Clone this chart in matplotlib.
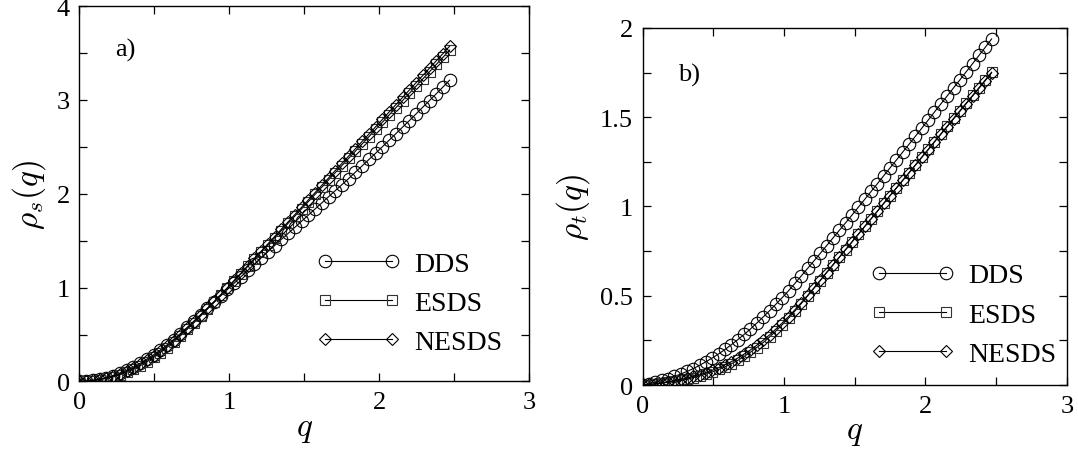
import matplotlib
matplotlib.use("Agg")
import matplotlib.pyplot as plt
from matplotlib.ticker import MultipleLocator, NullFormatter

plt.rcParams['font.family'] = ['Liberation Serif', 'DejaVu Serif']
plt.rcParams['mathtext.fontset'] = 'cm'

# wave numbers (grid of the data points)
q = [0.000, 0.045, 0.090, 0.135, 0.180, 0.224, 0.269, 0.314, 0.359, 0.404,
     0.449, 0.494, 0.539, 0.583, 0.628, 0.673, 0.718, 0.763, 0.808, 0.853,
     0.898, 0.942, 0.987, 1.032, 1.077, 1.122, 1.167, 1.212, 1.257, 1.301,
     1.346, 1.391, 1.436, 1.481, 1.526, 1.571, 1.616, 1.661, 1.705, 1.750,
     1.795, 1.840, 1.885, 1.930, 1.975, 2.020, 2.064, 2.109, 2.154, 2.199,
     2.244, 2.289, 2.334, 2.379, 2.424, 2.468]

# panel a) rho_s(q)
rs_dds = [0, 0.004, 0.012, 0.026, 0.042, 0.063, 0.090, 0.120, 0.154, 0.193,
          0.238, 0.284, 0.335, 0.389, 0.447, 0.511, 0.576, 0.644, 0.712, 0.780,
          0.847, 0.913, 0.980, 1.048, 1.116, 1.183, 1.250, 1.318, 1.384, 1.448,
          1.514, 1.577, 1.642, 1.707, 1.772, 1.838, 1.903, 1.968, 2.032, 2.097,
          2.162, 2.230, 2.297, 2.365, 2.432, 2.501, 2.569, 2.639, 2.709, 2.778,
          2.850, 2.922, 2.993, 3.065, 3.137, 3.210]
rs_esds = [0, 0.003, 0.009, 0.019, 0.032, 0.049, 0.071, 0.098, 0.130, 0.167,
           0.209, 0.256, 0.307, 0.362, 0.422, 0.487, 0.555, 0.626, 0.698, 0.771,
           0.844, 0.917, 0.993, 1.071, 1.148, 1.225, 1.302, 1.379, 1.456, 1.531,
           1.608, 1.685, 1.762, 1.839, 1.916, 1.993, 2.070, 2.147, 2.223, 2.300,
           2.377, 2.454, 2.531, 2.608, 2.685, 2.762, 2.838, 2.915, 2.992, 3.069,
           3.146, 3.223, 3.300, 3.377, 3.454, 3.530]
rs_nesds = [0, 0.004, 0.011, 0.023, 0.038, 0.057, 0.081, 0.110, 0.143, 0.181,
            0.224, 0.271, 0.322, 0.377, 0.436, 0.500, 0.567, 0.637, 0.708, 0.780,
            0.853, 0.926, 1.001, 1.078, 1.155, 1.233, 1.311, 1.389, 1.467, 1.544,
            1.622, 1.700, 1.778, 1.856, 1.934, 2.012, 2.090, 2.168, 2.246, 2.324,
            2.402, 2.480, 2.558, 2.636, 2.714, 2.792, 2.870, 2.948, 3.026, 3.104,
            3.182, 3.260, 3.338, 3.416, 3.494, 3.572]

# panel b) rho_t(q)
rt_dds = [0, 0.007, 0.016, 0.026, 0.036, 0.048, 0.061, 0.076, 0.092, 0.111,
          0.131, 0.152, 0.175, 0.199, 0.226, 0.254, 0.283, 0.314, 0.347, 0.381,
          0.416, 0.452, 0.489, 0.528, 0.569, 0.611, 0.653, 0.695, 0.738, 0.780,
          0.823, 0.866, 0.909, 0.952, 0.996, 1.040, 1.084, 1.128, 1.172, 1.216,
          1.260, 1.305, 1.349, 1.394, 1.439, 1.484, 1.529, 1.574, 1.619, 1.664,
          1.709, 1.755, 1.800, 1.846, 1.892, 1.938]
rt_esds = [0, 0.002, 0.006, 0.010, 0.015, 0.020, 0.026, 0.033, 0.041, 0.051,
           0.062, 0.074, 0.087, 0.102, 0.119, 0.138, 0.160, 0.184, 0.210, 0.238,
           0.269, 0.302, 0.337, 0.374, 0.414, 0.456, 0.499, 0.542, 0.585, 0.629,
           0.672, 0.715, 0.758, 0.801, 0.845, 0.888, 0.931, 0.974, 1.017, 1.061,
           1.104, 1.147, 1.190, 1.233, 1.277, 1.320, 1.363, 1.406, 1.449, 1.493,
           1.536, 1.579, 1.622, 1.665, 1.709, 1.752]
rt_nesds = [0, 0.003, 0.007, 0.012, 0.018, 0.024, 0.031, 0.039, 0.048, 0.058,
            0.070, 0.083, 0.097, 0.113, 0.131, 0.151, 0.173, 0.197, 0.223, 0.251,
            0.281, 0.313, 0.347, 0.383, 0.421, 0.461, 0.502, 0.544, 0.587, 0.630,
            0.673, 0.716, 0.759, 0.802, 0.845, 0.888, 0.931, 0.974, 1.017, 1.060,
            1.103, 1.146, 1.189, 1.232, 1.275, 1.318, 1.361, 1.404, 1.447, 1.490,
            1.533, 1.576, 1.619, 1.662, 1.705, 1.748]

labels = ["DDS", "ESDS", "NESDS"]

fig = plt.figure(figsize=(10.78, 4.52), dpi=100)
axa = fig.add_axes([0.0737, 0.1538, 0.4174, 0.8307])
axb = fig.add_axes([0.5961, 0.146, 0.3935, 0.79])

fmt = plt.FuncFormatter(lambda v, p: '%g' % v)

def draw(ax, ys, ymax, ystep, ylabel, tag, tagpos, legpos):
    ax.plot(q, ys[0], '-', color='black', lw=0.8, marker='o', ms=9,
            mfc='none', mec='black', mew=0.8, label=labels[0])
    ax.plot(q, ys[1], '-', color='black', lw=0.8, marker='s', ms=7,
            mfc='none', mec='#333333', mew=0.8, label=labels[1])
    ax.plot(q, ys[2], '-', color='black', lw=0.8, marker='D', ms=6.5,
            mfc='none', mec='black', mew=0.8, label=labels[2])
    ax.set_xlim(0, 3)
    ax.set_ylim(0, ymax)
    ax.xaxis.set_major_locator(MultipleLocator(1))
    ax.xaxis.set_minor_locator(MultipleLocator(0.5))
    ax.yaxis.set_major_locator(MultipleLocator(ystep))
    ax.yaxis.set_minor_locator(MultipleLocator(ystep / 2))
    ax.xaxis.set_major_formatter(fmt)
    ax.yaxis.set_major_formatter(fmt)
    ax.xaxis.set_minor_formatter(NullFormatter())
    ax.yaxis.set_minor_formatter(NullFormatter())
    ax.tick_params(which='both', direction='in', top=True, right=True,
                   length=6, width=0.9, labelsize=19, pad=7)
    for s in ax.spines.values():
        s.set_linewidth(1.0)
    ax.set_xlabel(r'$q$', fontsize=24, labelpad=0)
    ax.set_ylabel(ylabel, fontsize=24, labelpad=6)
    ax.text(tagpos[0], tagpos[1], tag, transform=ax.transAxes, fontsize=19,
            va='center', ha='left')
    ax.legend(loc='lower right', bbox_to_anchor=legpos, frameon=False,
              numpoints=2, handlelength=3.0, handletextpad=0.5,
              labelspacing=0.5, borderpad=0, borderaxespad=0, fontsize=20)

draw(axa, [rs_dds, rs_esds, rs_nesds], 4, 1, r'$\rho_s(q)$', 'a)',
     (0.079, 0.885), (0.94, 0.07))
draw(axb, [rt_dds, rt_esds, rt_nesds], 2, 0.5, r'$\rho_t(q)$', 'b)',
     (0.083, 0.87), (0.975, 0.05))

fig.savefig("out.png", dpi=100)
